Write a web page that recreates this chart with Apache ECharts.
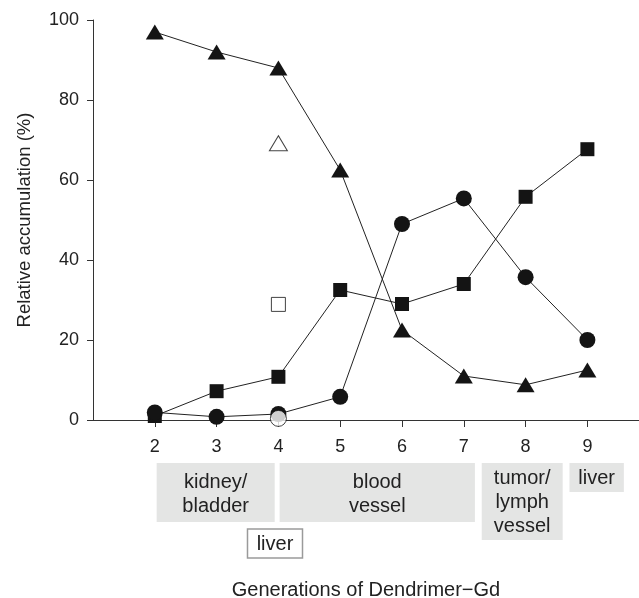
<!DOCTYPE html>
<html>
<head>
<meta charset="utf-8">
<script src="https://cdn.jsdelivr.net/npm/echarts@6/dist/echarts.min.js"></script>
<style>html,body{margin:0;padding:0;background:#fff}#c{width:639px;height:598px}</style>
</head>
<body>
<div id="c"></div>
<script>
var generations = [2, 3, 4, 5, 6, 7, 8, 9];
var xTickLabels = ['2', '3', '4', '5', '6', '7', '8', '9'];
var yTicks = [0, 20, 40, 60, 80, 100];
var triangleFilled = [97, 92, 88, 62.5, 22.5, 11, 8.8, 12.5];
var squareFilled = [1, 7.2, 10.8, 32.5, 29, 34, 55.8, 67.7];
var circleFilled = [1.9, 0.8, 1.5, 5.8, 49, 55.4, 35.7, 20];
var openGeneration = 4;
var triangleOpen = 69.2;
var squareOpen = 28.9;
var circleOpen = 0.4;
var organBoxes = [
  {text: 'kidney/\nbladder', x0: 2.03, x1: 3.94, lines: 2, fill: true},
  {text: 'blood\nvessel', x0: 4.02, x1: 7.18, lines: 2, fill: true},
  {text: 'tumor/\nlymph\nvessel', x0: 7.29, x1: 8.6, lines: 3, fill: true},
  {text: 'liver', x0: 8.71, x1: 9.59, lines: 1, fill: true},
  {text: 'liver', x0: 3.5, x1: 4.39, lines: 1, fill: false}
];

function pairs(xs, ys) { return xs.map(function (x, i) { return [x, ys[i]]; }); }

var chart = echarts.init(document.getElementById('c'));
var FONT = 'Liberation Sans, Arial, sans-serif';
var ink = '#141414';

function lineSeries(data, symbol, size) {
  return {
    type: 'line', data: data, symbol: symbol, symbolSize: size,
    lineStyle: {color: '#222', width: 1}, itemStyle: {color: ink, borderColor: ink, borderWidth: 0},
    emphasis: {disabled: true}, animation: false, z: 2
  };
}
function openSeries(data, symbol, size) {
  return {
    type: 'scatter', data: data, symbol: symbol, symbolSize: size,
    itemStyle: {color: '#fff', borderColor: ink, borderWidth: 1},
    emphasis: {disabled: true}, animation: false, z: 5
  };
}

var option = {
  backgroundColor: '#fff',
  animation: false,
  grid: {left: 93, top: 20, right: 0, height: 400, containLabel: false, outerBoundsMode: 'none'},
  xAxis: {
    type: 'value', min: 1, max: 9.835,
    name: 'Generations of Dendrimer\u2212Gd', nameLocation: 'middle', nameGap: 160,
    nameTextStyle: {fontFamily: FONT, fontSize: 20, color: '#222'},
    axisLine: {lineStyle: {color: '#333', width: 1}},
    axisTick: {show: true, length: 7, inside: false, lineStyle: {color: '#333'}, customValues: generations},
    axisLabel: {fontFamily: FONT, fontSize: 18, color: '#222', margin: 18, customValues: generations,
      formatter: function (v) { var i = generations.indexOf(v); return i >= 0 ? xTickLabels[i] : ''; }},
    splitLine: {show: false}
  },
  yAxis: {
    type: 'value', min: 0, max: 100, interval: 20,
    name: 'Relative accumulation (%)', nameLocation: 'middle', nameGap: 59, nameRotate: 90,
    nameTextStyle: {fontFamily: FONT, fontSize: 18.5, color: '#222'},
    axisLine: {show: true, lineStyle: {color: '#333', width: 1}},
    axisTick: {show: true, length: 6, lineStyle: {color: '#333'}},
    axisLabel: {fontFamily: FONT, fontSize: 18, color: '#222', margin: 14,
      formatter: function (v) { return yTicks.indexOf(v) >= 0 ? String(v) : ''; }},
    splitLine: {show: false}
  },
  series: [
    lineSeries(pairs(generations, triangleFilled), 'triangle', [18, 15]),
    lineSeries(pairs(generations, squareFilled), 'rect', 14),
    lineSeries(pairs(generations, circleFilled), 'circle', 16),
    openSeries([[openGeneration, triangleOpen]], 'triangle', [18, 15]),
    openSeries([[openGeneration, squareOpen]], 'rect', 14),
    openSeries([[openGeneration, circleOpen]], 'circle', 16)
  ]
};
chart.setOption(option);

// organ annotation boxes below the axis, positioned via the x scale
var graphics = [];
var boxTop = 463;
organBoxes.forEach(function (b) {
  var px0 = chart.convertToPixel({xAxisIndex: 0}, b.x0);
  var px1 = chart.convertToPixel({xAxisIndex: 0}, b.x1);
  var top = b.fill ? boxTop : 529;
  var h = b.fill ? (b.lines === 1 ? 29 : (b.lines === 2 ? 59 : 77)) : 29;
  graphics.push({
    type: 'rect', shape: {x: px0, y: top, width: px1 - px0, height: h},
    style: b.fill ? {fill: '#e4e5e4'} : {fill: '#fff', stroke: '#9a9a9a', lineWidth: 1.5}, z: 1
  });
  graphics.push({
    type: 'text', x: (px0 + px1) / 2, y: top + h / 2 + (b.lines === 2 ? 2 : 1),
    style: {text: b.text, fontFamily: FONT, fontSize: 20, fill: '#222', align: 'center', verticalAlign: 'middle', lineHeight: 24},
    z: 2
  });
});
chart.setOption({graphic: graphics});
</script>
</body>
</html>
